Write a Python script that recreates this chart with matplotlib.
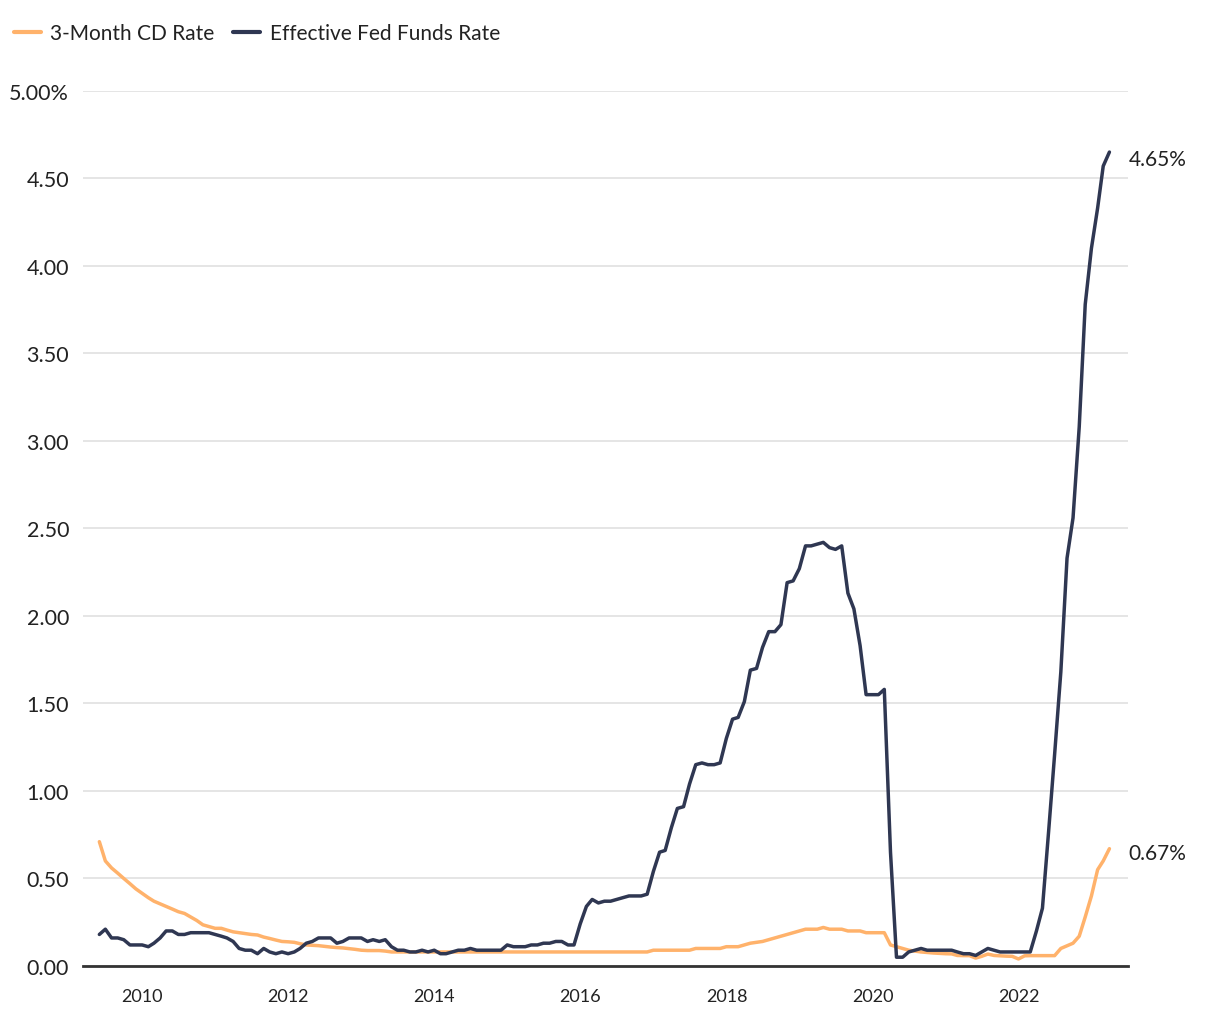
#!/usr/bin/env python3

import matplotlib
matplotlib.use("Agg")
import matplotlib.pyplot as plt
import numpy as np
import pandas as pd

# monthly observations, May 2009 .. Mar 2023 (month end)
dates = pd.date_range("2009-05-01", "2023-03-01", freq="MS") + pd.offsets.MonthEnd(0)

cd_rate = [
    # 2009 (May-Dec)
    0.71, 0.60, 0.56, 0.53, 0.50, 0.47, 0.44, 0.415,
    # 2010
    0.39, 0.37, 0.355, 0.34, 0.325, 0.31, 0.30, 0.28, 0.26, 0.235, 0.225, 0.215,
    # 2011
    0.215, 0.205, 0.195, 0.19, 0.185, 0.18, 0.177, 0.165, 0.157, 0.148, 0.14, 0.138,
    # 2012
    0.135, 0.127, 0.12, 0.118, 0.116, 0.112, 0.108, 0.105, 0.103, 0.099, 0.095, 0.09,
    # 2013
    0.088, 0.088, 0.088, 0.085, 0.08, 0.08, 0.08, 0.08, 0.08, 0.08, 0.08, 0.08,
    # 2014
    0.08, 0.08, 0.08, 0.08, 0.08, 0.08, 0.08, 0.08, 0.08, 0.08, 0.08, 0.08,
    # 2015
    0.08, 0.08, 0.08, 0.08, 0.08, 0.08, 0.08, 0.08, 0.08, 0.08, 0.08, 0.08,
    # 2016
    0.08, 0.08, 0.08, 0.08, 0.08, 0.08, 0.08, 0.08, 0.08, 0.08, 0.08, 0.09,
    # 2017
    0.09, 0.09, 0.09, 0.09, 0.09, 0.09, 0.10, 0.10, 0.10, 0.10, 0.10, 0.11,
    # 2018
    0.11, 0.11, 0.12, 0.13, 0.135, 0.14, 0.15, 0.16, 0.17, 0.18, 0.19, 0.20,
    # 2019
    0.21, 0.21, 0.21, 0.22, 0.21, 0.21, 0.21, 0.20, 0.20, 0.20, 0.19, 0.19,
    # 2020
    0.19, 0.19, 0.12, 0.11, 0.10, 0.09, 0.085, 0.08, 0.077, 0.074, 0.072, 0.07,
    # 2021
    0.069, 0.06, 0.059, 0.059, 0.045, 0.055, 0.068, 0.06, 0.058, 0.056, 0.055, 0.04,
    # 2022
    0.058, 0.059, 0.059, 0.059, 0.059, 0.059, 0.10, 0.115, 0.13, 0.17, 0.28, 0.40,
    # 2023 (Jan-Mar)
    0.55, 0.60, 0.67,
]

fed_funds = [
    # 2009 (May-Dec)
    0.18, 0.21, 0.16, 0.16, 0.15, 0.12, 0.12, 0.12,
    # 2010
    0.11, 0.13, 0.16, 0.20, 0.20, 0.18, 0.18, 0.19, 0.19, 0.19, 0.19, 0.18,
    # 2011
    0.17, 0.16, 0.14, 0.10, 0.09, 0.09, 0.07, 0.10, 0.08, 0.07, 0.08, 0.07,
    # 2012
    0.08, 0.10, 0.13, 0.14, 0.16, 0.16, 0.16, 0.13, 0.14, 0.16, 0.16, 0.16,
    # 2013
    0.14, 0.15, 0.14, 0.15, 0.11, 0.09, 0.09, 0.08, 0.08, 0.09, 0.08, 0.09,
    # 2014
    0.07, 0.07, 0.08, 0.09, 0.09, 0.10, 0.09, 0.09, 0.09, 0.09, 0.09, 0.12,
    # 2015
    0.11, 0.11, 0.11, 0.12, 0.12, 0.13, 0.13, 0.14, 0.14, 0.12, 0.12, 0.24,
    # 2016
    0.34, 0.38, 0.36, 0.37, 0.37, 0.38, 0.39, 0.40, 0.40, 0.40, 0.41, 0.54,
    # 2017
    0.65, 0.66, 0.79, 0.90, 0.91, 1.04, 1.15, 1.16, 1.15, 1.15, 1.16, 1.30,
    # 2018
    1.41, 1.42, 1.51, 1.69, 1.70, 1.82, 1.91, 1.91, 1.95, 2.19, 2.20, 2.27,
    # 2019
    2.40, 2.40, 2.41, 2.42, 2.39, 2.38, 2.40, 2.13, 2.04, 1.83, 1.55, 1.55,
    # 2020
    1.55, 1.58, 0.65, 0.05, 0.05, 0.08, 0.09, 0.10, 0.09, 0.09, 0.09, 0.09,
    # 2021
    0.09, 0.08, 0.07, 0.07, 0.06, 0.08, 0.10, 0.09, 0.08, 0.08, 0.08, 0.08,
    # 2022
    0.08, 0.08, 0.20, 0.33, 0.77, 1.21, 1.68, 2.33, 2.56, 3.08, 3.78, 4.10,
    # 2023 (Jan-Mar)
    4.33, 4.57, 4.65,
]

y_ticks = [0.0, 0.5, 1.0, 1.5, 2.0, 2.5, 3.0, 3.5, 4.0, 4.5, 5.0]
x_years = [2010, 2012, 2014, 2016, 2018, 2020, 2022]

ORANGE = "#ffb26b"
NAVY = "#2f3752"
TEXT = "#222222"


def main():
    plt.rcParams["font.family"] = ["Lato", "DejaVu Sans"]

    fig = plt.figure(figsize=(12.2, 10.2), dpi=100)
    ax = fig.add_axes([0.068, 0.052, 0.8566, 0.858])

    ax.plot(dates, cd_rate, color=ORANGE, linewidth=2.5, label="3-Month CD Rate",
            solid_joinstyle="round", solid_capstyle="round")
    ax.plot(dates, fed_funds, color=NAVY, linewidth=2.5, label="Effective Fed Funds Rate",
            solid_joinstyle="round", solid_capstyle="round")

    ax.set_ylim(0, 5.0)
    ax.set_xlim(pd.Timestamp("2009-03-10"), pd.Timestamp("2023-07-02"))

    ax.set_yticks(y_ticks)
    ax.set_yticklabels([f"{v:.2f}%" if v == 5.0 else f"{v:.2f}" for v in y_ticks])
    ax.set_xticks([pd.Timestamp(f"{y}-01-01") for y in x_years])
    ax.set_xticklabels([str(y) for y in x_years])

    ax.tick_params(axis="both", length=0, colors=TEXT)
    ax.tick_params(axis="y", pad=10, labelsize=15.5)
    ax.tick_params(axis="x", pad=16, labelsize=13)

    ax.grid(axis="y", color="#e3e3e3", linewidth=1.3)
    ax.set_axisbelow(True)
    for side in ["top", "right", "left"]:
        ax.spines[side].set_visible(False)
    ax.spines["bottom"].set_color("#333333")
    ax.spines["bottom"].set_linewidth(2)

    # end-of-line value labels
    ax.annotate(f"{fed_funds[-1]:.2f}%", xy=(dates[-1], fed_funds[-1]), xytext=(14, -5),
                textcoords="offset points", fontsize=15, color=TEXT, va="center",
                annotation_clip=False)
    ax.annotate(f"{cd_rate[-1]:.2f}%", xy=(dates[-1], cd_rate[-1]), xytext=(14, -3),
                textcoords="offset points", fontsize=15, color=TEXT, va="center",
                annotation_clip=False)

    fig.legend(loc="upper left", bbox_to_anchor=(-0.004, 0.995), ncol=2, frameon=False,
               fontsize=15, handlelength=1.3, handletextpad=0.45, columnspacing=0.9,
               labelcolor=TEXT)
    for line in fig.legends[0].get_lines():
        line.set_linewidth(3)

    fig.savefig("out.png", dpi=100)
    plt.close(fig)


if __name__ == "__main__":
    main()
